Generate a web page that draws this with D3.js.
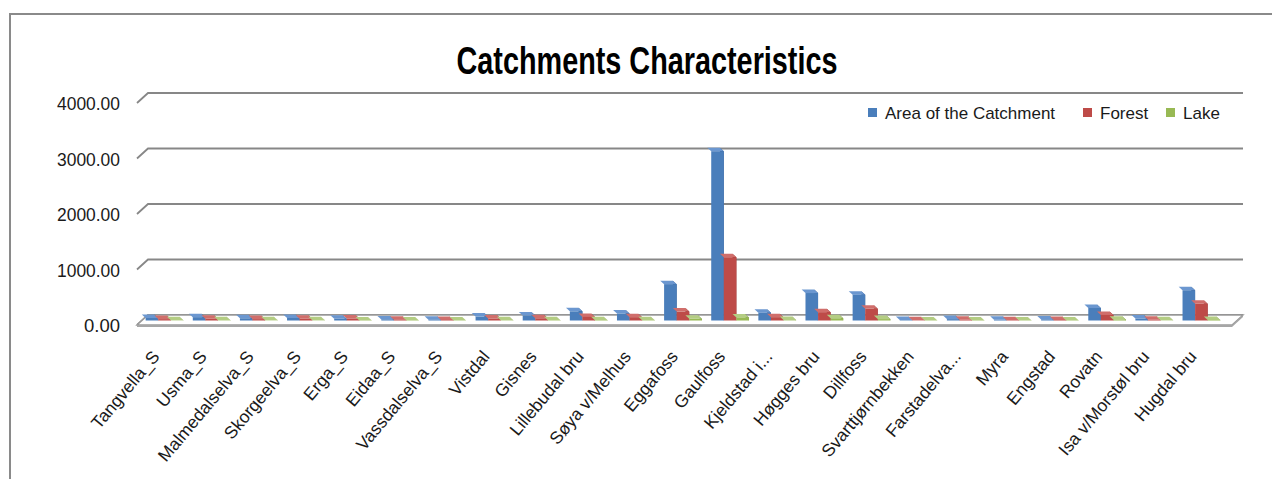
<!DOCTYPE html>
<html>
<head>
<meta charset="utf-8">
<script src="https://cdn.jsdelivr.net/npm/d3@7"></script>
<style>
  html, body { margin: 0; padding: 0; background: #fff; }
  svg { display: block; font-family: "Liberation Sans", Arial, sans-serif; }
</style>
</head>
<body>
<svg id="chart" width="1272" height="479"></svg>
<script>
// Catchment names (x axis)
const categories = [
  "Tangvella_S", "Usma_S", "Malmedalselva_S", "Skorgeelva_S", "Erga_S", "Eidaa_S",
  "Vassdalselva_S", "Vistdal", "Gisnes", "Lillebudal bru", "Søya v/Melhus", "Eggafoss",
  "Gaulfoss", "Kjeldstad i...", "Høgges bru", "Dillfoss", "Svarttjørnbekken",
  "Farstadelva...", "Myra", "Engstad", "Rovatn", "Isa v/Morstøl bru", "Hugdal bru"
];
// Series values
const areaValues   = [45, 60, 40, 45, 30, 20, 15, 70, 90, 165, 125, 655, 3050, 140, 495, 465, 8, 25, 12, 20, 225, 35, 545];
const forestValues = [25, 30, 25, 30, 35, 15, 10, 35, 40, 65, 60, 160, 1140, 60, 150, 210, 4, 12, 6, 10, 100, 12, 300];
const lakeValues   = [3, 4, 3, 3, 2, 2, 1, 4, 5, 6, 5, 30, 55, 7, 40, 25, 1, 2, 1, 2, 15, 3, 10];
const seriesNames  = ["Area of the Catchment", "Forest", "Lake"];
const yTicks       = [0, 1000, 2000, 3000, 4000];

const series = [
  { name: seriesNames[0], values: areaValues,   front: "#4A7EBB", side: "#34598A", top: "#6B97D0" },
  { name: seriesNames[1], values: forestValues, front: "#BE4B48", side: "#8A3533", top: "#D06E6B" },
  { name: seriesNames[2], values: lakeValues,   front: "#98B954", side: "#6E873C", top: "#B4CD83" }
];

const svg = d3.select("#chart");

// Back wall geometry and the depth vector (back -> front)
const wallLeft = 148, wallRight = 1243;
const depthX = -11, depthY = 10;
const y = d3.scaleLinear().domain([0, 4000]).range([315, 93]);
const x = d3.scaleBand().domain(categories).range([147, 1231]).paddingInner(0.2).paddingOuter(0.1);
const xs = d3.scaleBand().domain(seriesNames).range([0, x.bandwidth()]);

// Outer frame
svg.append("path")
  .attr("d", "M10,479 L10,14 L1272,14")
  .attr("fill", "none").attr("stroke", "#8a8a8a").attr("stroke-width", 2);

// Title
svg.append("text")
  .attr("x", 647).attr("y", 74)
  .attr("text-anchor", "middle")
  .attr("font-weight", "bold").attr("font-size", 38)
  .attr("textLength", 381).attr("lengthAdjust", "spacingAndGlyphs")
  .attr("fill", "#000")
  .text("Catchments Characteristics");

// Gridlines: back wall plus the short diagonal on the left side
const grid = svg.append("g").attr("stroke", "#878787").attr("stroke-width", 1.8).attr("fill", "none");
yTicks.forEach(t => {
  grid.append("path")
    .attr("d", `M${wallLeft + depthX},${y(t) + depthY} L${wallLeft},${y(t)} L${wallRight},${y(t)}`);
});

// Floor plate
const floor = svg.append("g");
floor.append("path")
  .attr("d", `M${wallLeft},${y(0)} L${wallRight},${y(0)} L${wallRight + depthX},${y(0) + depthY} L${wallLeft + depthX},${y(0) + depthY} Z`)
  .attr("fill", "#fff").attr("stroke", "#9a9a9a").attr("stroke-width", 1.4);
floor.append("path")
  .attr("d", `M${wallLeft + depthX},${y(0) + depthY} L${wallRight + depthX},${y(0) + depthY} L${wallRight + depthX},${y(0) + depthY + 2} L${wallLeft + depthX},${y(0) + depthY + 2} Z M${wallRight + depthX},${y(0) + depthY} L${wallRight},${y(0)} L${wallRight},${y(0) + 2} L${wallRight + depthX},${y(0) + depthY + 2} Z`)
  .attr("fill", "#a6a6a6");

// Y axis labels
svg.append("g").selectAll("text").data(yTicks).join("text")
  .attr("x", 120).attr("y", d => y(d) + depthY + 7)
  .attr("text-anchor", "end").attr("font-size", 18.5)
  .attr("textLength", d => d3.format(".2f")(d).length * 9)
  .attr("lengthAdjust", "spacingAndGlyphs")
  .attr("fill", "#1a1a1a")
  .text(d => d3.format(".2f")(d));

// Bars: front face at 55% depth, bar depth 35% of the floor
const fFront = 0.55, fBack = 0.2;
const fx = depthX * fFront, fy = depthY * fFront;
const bx = depthX * (fBack - fFront), by = depthY * (fBack - fFront);
const bars = svg.append("g");
categories.forEach((c, i) => {
  series.forEach(s => {
    const x0 = x(c) + xs(s.name) + fx;
    const x1 = x0 + xs.bandwidth();
    const yb = y(0) + fy;
    const yt = y(s.values[i]) + fy;
    const g = bars.append("g");
    g.append("path")
      .attr("d", `M${x1},${yt} L${x1 - bx},${yt + by} L${x1 - bx},${yb + by} L${x1},${yb} Z`)
      .attr("fill", s.side);
    g.append("path")
      .attr("d", `M${x0},${yt} L${x1},${yt} L${x1 - bx},${yt + by} L${x0 - bx},${yt + by} Z`)
      .attr("fill", s.top);
    g.append("rect")
      .attr("x", x0).attr("y", yt)
      .attr("width", x1 - x0).attr("height", Math.max(0, yb - yt))
      .attr("fill", s.front);
  });
});

// Category labels, rotated
svg.append("g").selectAll("text").data(categories).join("text")
  .attr("transform", d => `translate(${x(d) + x.bandwidth() / 2 + depthX + 1},${y(0) + depthY + 32}) rotate(-50)`)
  .attr("text-anchor", "end").attr("font-size", 17.5)
  .attr("fill", "#1a1a1a")
  .text(d => d);

// Legend
const legendX = [868, 1083, 1166];
const legend = svg.append("g");
series.forEach((s, i) => {
  legend.append("rect")
    .attr("x", legendX[i]).attr("y", 108).attr("width", 9).attr("height", 9)
    .attr("fill", s.front);
  legend.append("text")
    .attr("x", legendX[i] + 17).attr("y", 118.5)
    .attr("font-size", 17).attr("fill", "#1a1a1a")
    .text(s.name);
});
</script>
</body>
</html>
